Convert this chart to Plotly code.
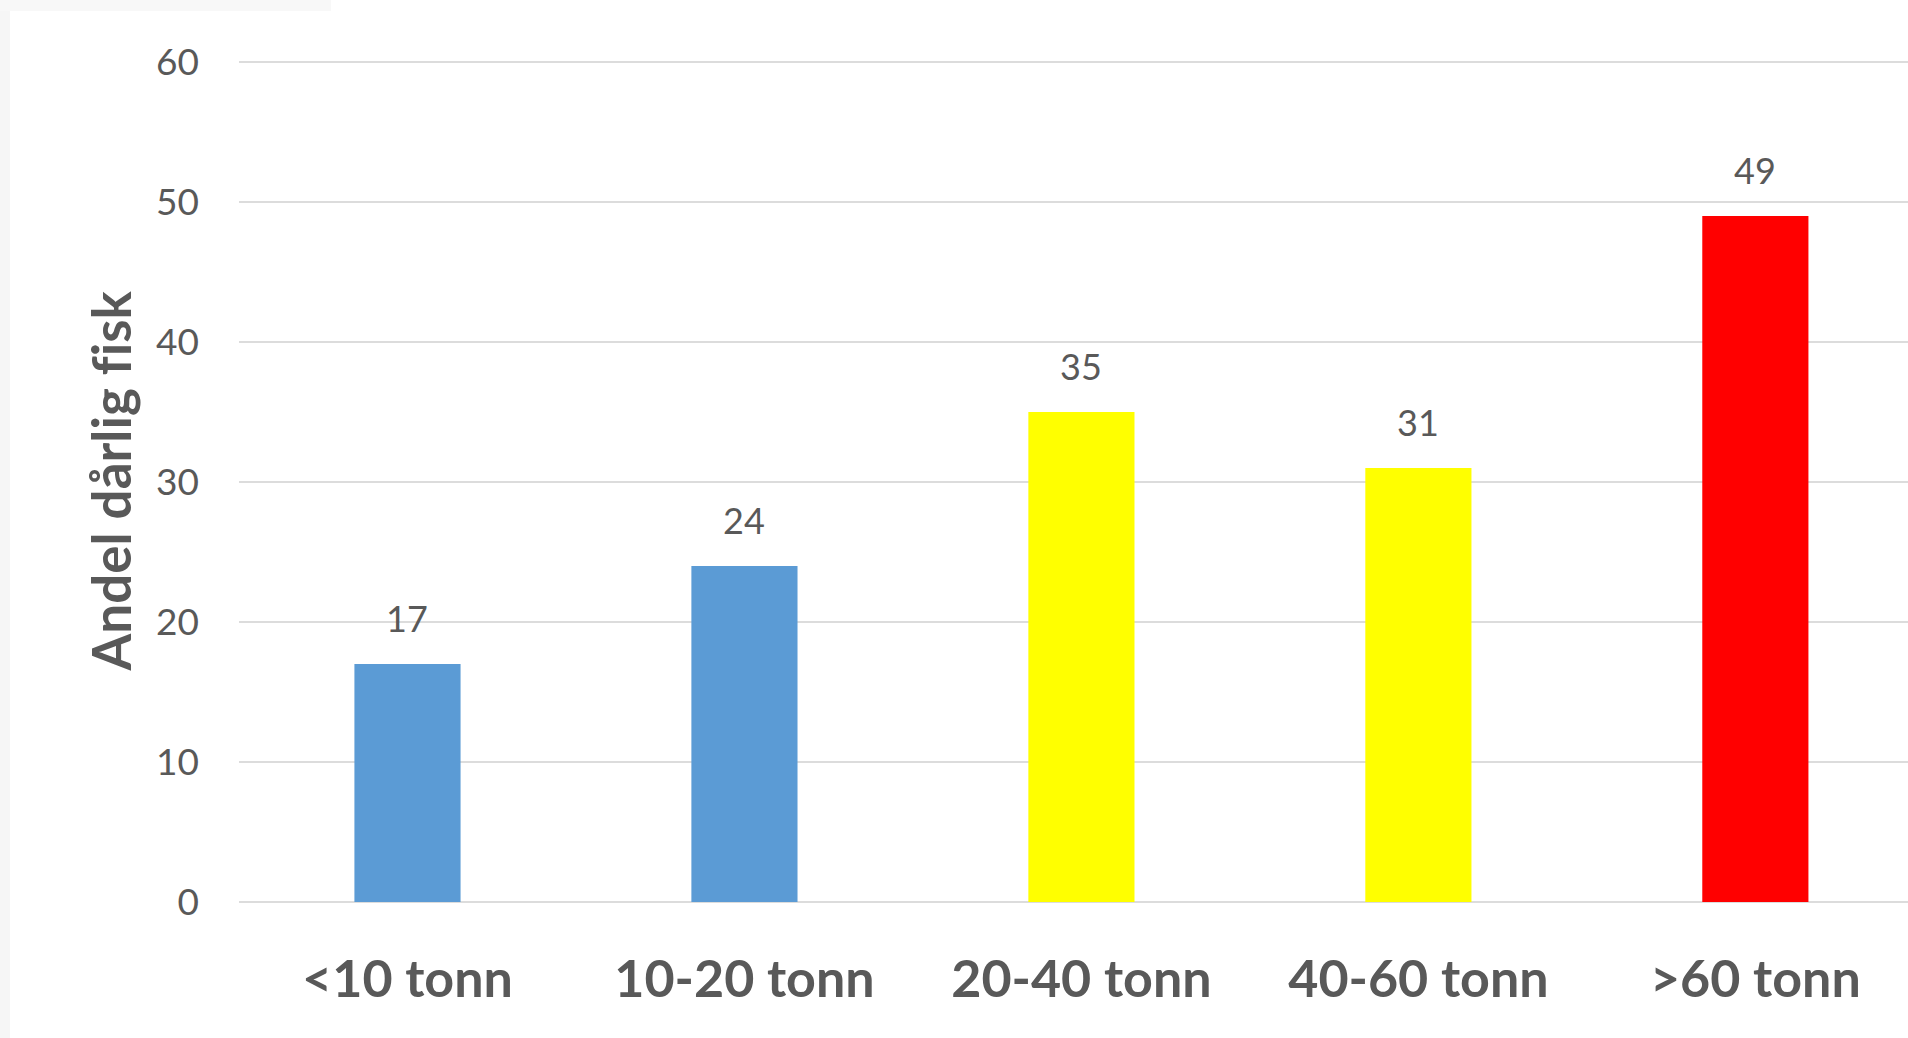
import plotly.graph_objects as go

# Share of poor-quality fish by catch size
categories = ["<10 tonn", "10-20 tonn", "20-40 tonn", "40-60 tonn", ">60 tonn"]
values = [17, 24, 35, 31, 49]
bar_colors = ["#5B9BD5", "#5B9BD5", "#FFFF00", "#FFFF00", "#FF0000"]
y_ticks = [0, 10, 20, 30, 40, 50, 60]

FONT = "Lato, 'Open Sans', sans-serif"
TEXT = "#595959"
GRID = "#dcdcdc"

fig = go.Figure(
    go.Bar(
        x=categories,
        y=values,
        marker=dict(color=bar_colors, line=dict(width=0)),
        width=0.315,
        hoverinfo="x+y",
    )
)

# value labels above each bar
for cat, val in zip(categories, values):
    fig.add_annotation(
        x=cat, y=val, text=str(val), showarrow=False,
        yanchor="bottom", yshift=22,
        font=dict(family=FONT, size=36, color=TEXT),
    )

# y-axis title (zero-width non-joiner keeps "f" and "i" apart)
fig.add_annotation(
    xref="paper", yref="paper", x=0, y=0.5,
    xanchor="center", yanchor="middle", xshift=-129,
    text="<b>Andel dårlig f\u200cisk</b>", textangle=-90, showarrow=False,
    font=dict(family=FONT, size=53, color=TEXT),
)

# gridline at the top of the value range
fig.add_shape(type="line", xref="paper", yref="y", x0=0, x1=1,
              y0=max(y_ticks), y1=max(y_ticks),
              line=dict(color=GRID, width=2), layer="below")

# faint frame strips along the left edge and top-left corner
fig.add_shape(type="rect", xref="paper", yref="paper",
              xsizemode="pixel", xanchor=0, x0=-239, x1=-229,
              y0=-0.3, y1=1.2, line=dict(width=0), fillcolor="#f6f6f6", layer="below")
fig.add_shape(type="rect", xref="paper", yref="paper",
              xsizemode="pixel", xanchor=0, x0=-239, x1=92,
              ysizemode="pixel", yanchor=1, y0=50, y1=61,
              line=dict(width=0), fillcolor="#f8f8f8", layer="below")

fig.update_layout(
    width=1908, height=1038,
    margin=dict(l=239, r=0, t=61, b=136),
    paper_bgcolor="white", plot_bgcolor="white",
    showlegend=False,
    bargap=0.685,
    font=dict(family=FONT, color=TEXT),
)

fig.update_xaxes(
    range=[-0.5, 4.453],
    showgrid=False, showline=False, zeroline=False, ticks="",
    tickfont=dict(family=FONT, size=52, color=TEXT, weight="bold"),
    ticklabelstandoff=42,
)

fig.update_yaxes(
    range=[0, 60.07], tickvals=y_ticks,
    showgrid=True, gridcolor=GRID, gridwidth=2,
    zeroline=True, zerolinecolor=GRID, zerolinewidth=2,
    showline=False, ticks="",
    tickfont=dict(family=FONT, size=37, color=TEXT),
    ticklabelstandoff=39,
)

fig.write_html("out.html")
